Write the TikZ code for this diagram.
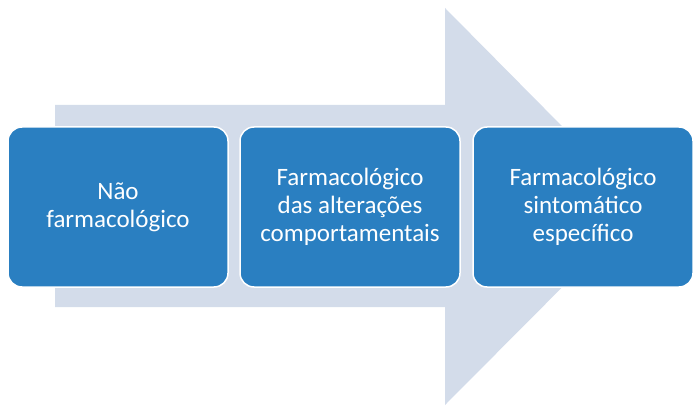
\documentclass[tikz,border=0pt]{standalone}
\usepackage{fontspec}
\setmainfont{Carlito}
\begin{document}
\begin{tikzpicture}[x=1pt,y=-1pt,
  box/.style={draw=white,line width=1.5pt,fill=boxblue,rounded corners=14pt,minimum width=220pt,minimum height=160pt,text=white,align=center,font=\fontsize{25}{28}\selectfont,inner sep=0pt}]
\definecolor{boxblue}{HTML}{2A7FC1}
\definecolor{arrowc}{HTML}{D3DCEA}
\useasboundingbox (0,0) rectangle (698,414);
\fill[arrowc] (55,105) -- (445,105) -- (445,8) -- (642,207) -- (445,405) -- (445,307) -- (55,307) -- cycle;
\node[box] (a) at (118,207) {Não\\farmacológico};
\node[box] (b) at (350,207) {Farmacológico\\das alterações\\comportamentais};
\node[box] (c) at (583,207) {Farmacológico\\sintomático\\específico};
\end{tikzpicture}
\end{document}
